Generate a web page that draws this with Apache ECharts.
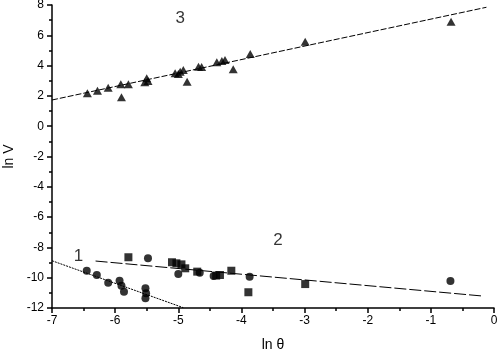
<!DOCTYPE html>
<html>
<head>
<meta charset="utf-8">
<script src="https://cdn.jsdelivr.net/npm/echarts@6/dist/echarts.min.js"></script>
<style>
    html, body { margin: 0; padding: 0; background: #fff; }
    #chart { width: 498px; height: 354px; }
</style>
</head>
<body>
<div id="chart"></div>
<script>
// data (ln θ, ln V)
var triangles = [
    [-6.44, 2.17], [-6.28, 2.34], [-6.11, 2.54], [-5.91, 2.77], [-5.79, 2.77],
    [-5.90, 1.91], [-5.50, 3.16], [-5.48, 2.98], [-5.53, 2.90], [-5.05, 3.49],
    [-4.97, 3.60], [-4.92, 3.71], [-5.00, 3.45], [-4.86, 2.94], [-4.68, 3.93],
    [-4.63, 3.90], [-4.39, 4.22], [-4.31, 4.30], [-4.26, 4.37], [-4.13, 3.76],
    [-3.86, 4.77], [-2.99, 5.58], [-0.68, 6.90]
];
var circles = [
    [-6.45, -9.54], [-6.29, -9.82], [-6.11, -10.33], [-5.93, -10.20], [-5.90, -10.53],
    [-5.86, -10.92], [-5.52, -10.70], [-5.51, -11.03], [-5.52, -11.36],
    [-5.48, -8.72], [-5.00, -9.75], [-4.66, -9.67], [-4.44, -9.89], [-3.87, -9.93],
    [-0.69, -10.22]
];
var squares = [
    [-5.79, -8.65], [-5.10, -8.98], [-5.03, -9.05], [-4.95, -9.12], [-4.89, -9.38],
    [-4.70, -9.60], [-4.40, -9.86], [-4.34, -9.82], [-4.16, -9.54], [-3.89, -10.96],
    [-2.99, -10.42]
];
// fitted lines, end points
var fit1 = [[-7, -8.88], [-4.92, -11.98]];
var fit2 = [[-6.31, -8.90], [-0.18, -11.21]];
var fit3 = [[-7, 1.73], [-0.12, 7.85]];
// curve labels
var curveLabels = [['1', -6.58, -8.6], ['2', -3.42, -7.5], ['3', -4.97, 7.1]];

var xTicks = { min: -7, max: 0, step: 1 };
var yTicks = { min: -12, max: 8, step: 2 };

var myChart = echarts.init(document.getElementById('chart'));

function axisBase(name, t) {
    return {
        type: 'value',
        name: name,
        nameLocation: 'middle',
        min: t.min,
        max: t.max,
        interval: t.step,
        axisLine: { show: true, onZero: false, lineStyle: { color: '#000', width: 1.5 } },
        axisTick: { show: true, inside: false, length: 5, lineStyle: { color: '#000', width: 1.5 } },
        minorTick: { show: true, splitNumber: 2, length: 3, lineStyle: { color: '#000', width: 1.5 } },
        splitLine: { show: false },
        axisLabel: { color: '#000', fontFamily: 'Liberation Sans', fontSize: 12 },
        nameTextStyle: { color: '#000', fontFamily: 'Liberation Sans', fontSize: 14 }
    };
}

var xAxis = axisBase('ln θ', xTicks);
xAxis.nameGap = 30;
xAxis.axisLabel.margin = 7;
var yAxis = axisBase('ln V', yTicks);
yAxis.nameGap = 31;
yAxis.axisLabel.margin = 8;

function fitLine(data, dash) {
    return {
        type: 'line',
        data: data,
        symbol: 'none',
        silent: true,
        lineStyle: { color: '#000', width: 1, type: dash }
    };
}

var option = {
    animation: false,
    grid: { left: 52, right: 4, top: 5, bottom: 46, containLabel: false, outerBoundsMode: 'none' },
    xAxis: xAxis,
    yAxis: yAxis,
    series: [
        fitLine(fit1, [2, 1]),
        fitLine(fit2, [12, 3]),
        fitLine(fit3, [6, 2]),
        {
            type: 'scatter',
            data: triangles,
            symbol: 'triangle',
            symbolSize: [9, 8],
            itemStyle: { color: '#000' }
        },
        {
            type: 'scatter',
            data: circles,
            symbol: 'circle',
            symbolSize: 8,
            itemStyle: { color: '#000' }
        },
        {
            type: 'scatter',
            data: squares,
            symbol: 'rect',
            symbolSize: 8,
            itemStyle: { color: '#000' }
        },
        {
            type: 'scatter',
            symbolSize: 0,
            data: curveLabels.map(function(d) { return { value: [d[1], d[2]], name: d[0] }; }),
            label: {
                show: true,
                position: 'inside',
                formatter: '{b}',
                color: '#000',
                fontFamily: 'Liberation Sans',
                fontSize: 17
            }
        }
    ]
};

myChart.setOption(option);
</script>
</body>
</html>
